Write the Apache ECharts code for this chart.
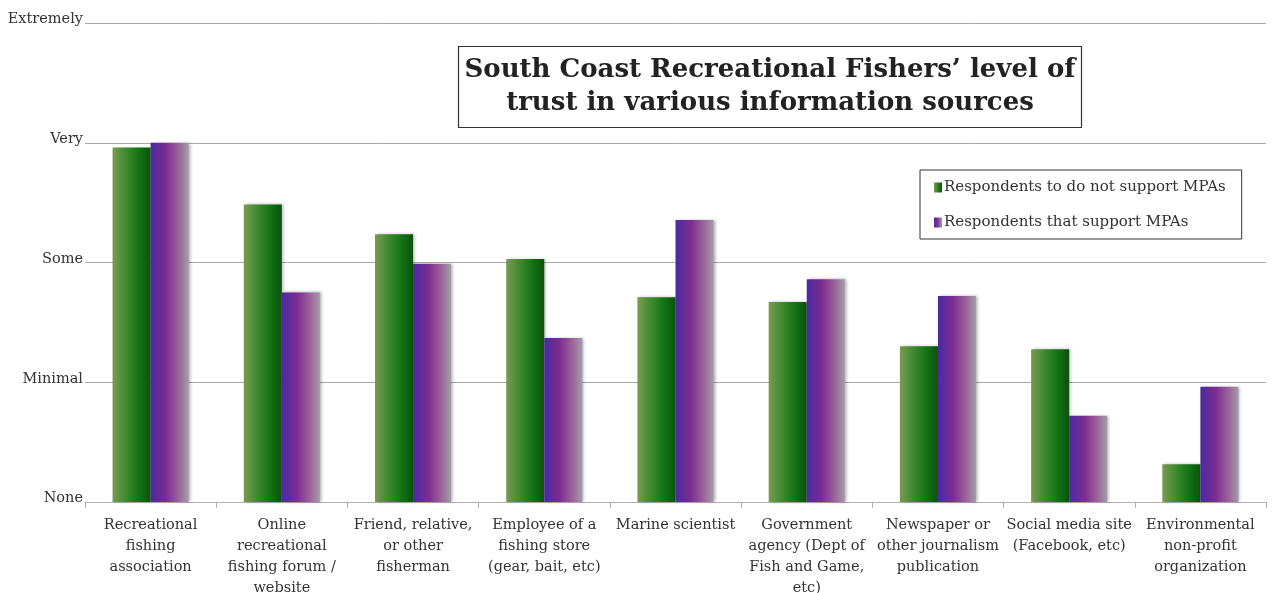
<!DOCTYPE html>
<html>
<head>
<meta charset="utf-8">
<title>South Coast Recreational Fishers' trust in information sources</title>
<script src="https://cdn.jsdelivr.net/npm/echarts@6/dist/echarts.min.js"></script>
<style>
  html, body { margin: 0; padding: 0; background: #ffffff; }
  #chart { width: 1272px; height: 593px; }
</style>
</head>
<body>
<div id="chart"></div>
<script>
// Information sources (x-axis categories, wrapped as printed)
const categories = [
  'Recreational\nfishing\nassociation',
  'Online\nrecreational\nfishing forum /\nwebsite',
  'Friend, relative,\nor other\nfisherman',
  'Employee of a\nfishing store\n(gear, bait, etc)',
  'Marine scientist',
  'Government\nagency (Dept of\nFish and Game,\netc)',
  'Newspaper or\nother journalism\npublication',
  'Social media site\n(Facebook, etc)',
  'Environmental\nnon-profit\norganization'
];

// Trust scale: 0 = None ... 4 = Extremely
const trustLevels = ['None', 'Minimal', 'Some', 'Very', 'Extremely'];

// Mean trust score by group
const seriesNames = ['Respondents to do not support MPAs', 'Respondents that support MPAs'];
const doNotSupport = [2.96, 2.485, 2.235, 2.03, 1.71, 1.67, 1.30, 1.275, 0.315];
const support      = [3.00, 1.75, 1.99, 1.37, 2.355, 1.86, 1.72, 0.72, 0.963];

const FONT = '"DejaVu Serif", "Liberation Serif", serif';

const greenFill = new echarts.graphic.LinearGradient(0, 0, 1, 0, [
  { offset: 0, color: '#7a9a50' },
  { offset: 0.35, color: '#3f8a30' },
  { offset: 0.7, color: '#137314' },
  { offset: 1, color: '#0b520c' }
]);
const purpleFill = new echarts.graphic.LinearGradient(0, 0, 1, 0, [
  { offset: 0, color: '#4a2aa2' },
  { offset: 0.4, color: '#7c2c90' },
  { offset: 0.72, color: '#9a6098' },
  { offset: 1, color: '#a49ca8' }
]);

const chart = echarts.init(document.getElementById('chart'), null, { renderer: 'canvas' });

chart.setOption({
  backgroundColor: '#ffffff',
  animation: false,
  title: {
    text: 'South Coast Recreational Fishers\u2019 level of\ntrust in various information sources',
    left: 764,
    top: 46,
    textAlign: 'center',
    padding: [8, 6, 8, 6],
    borderColor: '#333',
    borderWidth: 1.2,
    textStyle: {
      fontFamily: FONT,
      fontWeight: 'bold',
      fontSize: 26,
      lineHeight: 33,
      color: '#222'
    }
  },
  legend: {
    orient: 'vertical',
    left: 920,
    top: 170,
    padding: [10, 16, 9, 14],
    itemGap: 20,
    itemWidth: 8,
    itemHeight: 10,
    icon: 'rect',
    borderColor: '#333',
    borderWidth: 1,
    textStyle: { fontFamily: FONT, fontSize: 15, color: '#333', padding: [0, 0, 0, -3] },
    data: seriesNames
  },
  grid: { left: 85, right: 6, top: 23, bottom: 91, outerBoundsMode: 'none', containLabel: false },
  xAxis: {
    type: 'category',
    data: categories,
    axisLine: { lineStyle: { color: '#b0b0b0', width: 1 } },
    axisTick: { show: true, length: 6, lineStyle: { color: '#b0b0b0' } },
    axisLabel: {
      interval: 0,
      margin: 13,
      fontFamily: FONT,
      fontSize: 14.5,
      lineHeight: 21,
      color: '#333'
    }
  },
  yAxis: {
    type: 'value',
    min: 0,
    max: 4,
    interval: 1,
    axisLine: { show: false },
    axisTick: { show: false },
    axisLabel: {
      margin: 2,
      fontFamily: FONT,
      fontSize: 14.5,
      lineHeight: 7,
      verticalAlign: 'bottom',
      color: '#333',
      formatter: v => trustLevels[v]
    },
    splitLine: { lineStyle: { color: '#a8a8a8', width: 1 } }
  },
  series: [
    {
      name: seriesNames[0],
      type: 'bar',
      data: doNotSupport,
      barGap: '0%',
      barCategoryGap: '42%',
      color: '#1d7a1d',
      itemStyle: {
        color: greenFill,
        shadowColor: 'rgba(0,0,0,0.25)',
        shadowBlur: 3,
        shadowOffsetX: 2
      }
    },
    {
      name: seriesNames[1],
      type: 'bar',
      data: support,
      color: '#7a3a96',
      itemStyle: {
        color: purpleFill,
        shadowColor: 'rgba(0,0,0,0.3)',
        shadowBlur: 3,
        shadowOffsetX: 2
      }
    }
  ]
});
</script>
</body>
</html>
